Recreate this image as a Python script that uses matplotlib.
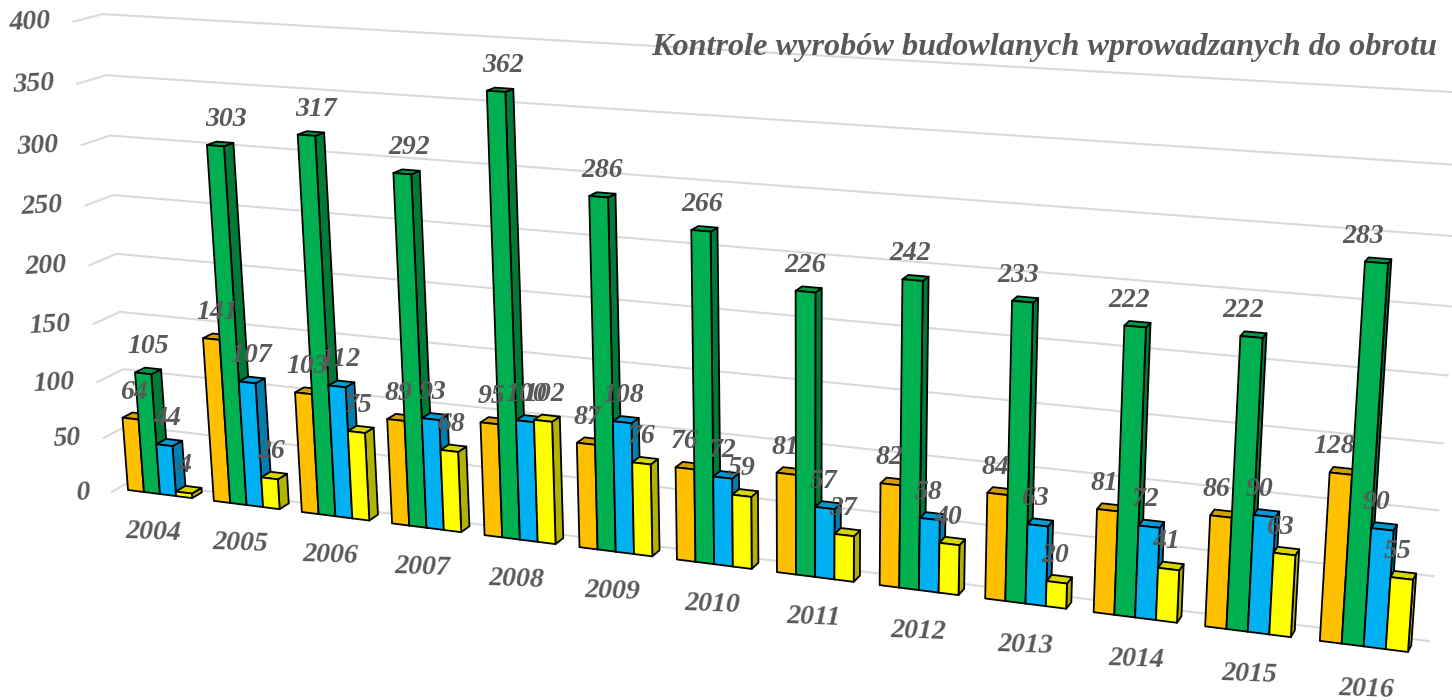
import numpy as np
import matplotlib
matplotlib.use("Agg")
import matplotlib.pyplot as plt

years = [2004, 2005, 2006, 2007, 2008, 2009, 2010, 2011, 2012, 2013, 2014, 2015, 2016]
orange = [64, 141, 103, 89, 95, 87, 76, 81, 82, 84, 81, 86, 128]
green = [105, 303, 317, 292, 362, 286, 266, 226, 242, 233, 222, 222, 283]
blue = [44, 107, 112, 93, 100, 108, 72, 57, 58, 63, 72, 90, 90]
yellow = [4, 26, 75, 68, 102, 76, 59, 37, 40, 20, 41, 63, 55]
ticks = [0, 50, 100, 150, 200, 250, 300, 350, 400]
title = "Kontrole wyrobów budowlanych wprowadzanych do obrotu"

TXT = "#595959"
FONT = "Liberation Serif"
# front, top, side colour per series
STYLES = [("#FFC000", "#D29E00", "#B38600"),
          ("#00B050", "#009A46", "#007A37"),
          ("#00B0F0", "#009AD3", "#007FAF"),
          ("#FFFF00", "#D6D600", "#B2B200")]
GROUP = 0.75  # share of a category slot used by the bars

# perspective of the chart: category/value plane -> picture pixels
src = [(0, 0), (12.75, 0), (0, 400), (12.75, 400)]
dst = [(128, 490), (1408, 652), (92, 18), (1446, 98)]
A = []
for (u, v), (px, py) in zip(src, dst):
    A.append([u, v, 1, 0, 0, 0, -u * px, -v * px, -px])
    A.append([0, 0, 0, u, v, 1, -u * py, -v * py, -py])
H = np.linalg.svd(np.array(A, float))[2][-1].reshape(3, 3)


def project(u, v, w=0.0):
    """u = category position, v = value, w = depth (1 = back of a bar)."""
    x, y, s = H @ np.array([u, v, 1.0])
    x, y = x / s, y / s
    return x + w * (10.6 - 0.0052 * x), y + w * (-2.5 - 0.0065 * y)


def face(ax, pts, color):
    ax.fill(*zip(*pts), facecolor=color, edgecolor="black", lw=1.3,
            joinstyle="round", zorder=3)


def draw_bar(ax, u0, u1, v, style):
    front, top, side = style
    face(ax, [project(u1, 0), project(u1, 0, 1), project(u1, v, 1), project(u1, v)], side)
    face(ax, [project(u0, v), project(u1, v), project(u1, v, 1), project(u0, v, 1)], top)
    face(ax, [project(u0, 0), project(u1, 0), project(u1, v), project(u0, v)], front)


def label(ax, x, y, s, size=20, ha="center", rotation=0):
    ax.text(x, y, s, ha=ha, va="center", family=FONT, style="italic", weight="bold",
            fontsize=size, color=TXT, rotation=rotation, zorder=6)


fig, ax = plt.subplots(figsize=(14.52, 7), dpi=100)
ax.set_position([0, 0, 1, 1])
ax.set_xlim(0, 1452)
ax.set_ylim(700, 0)
ax.axis("off")

# gridlines on the back wall and the side wall, wall depth grows to the right
WALL_L, WALL_R = 1.25, 1.9
for t in ticks:
    side = np.interp(t, [0, 50, 100, 400], [1.8, 2.3, 2.6, 2.9])
    shift = 9 * t / 400  # the left wall edge leans less than the bars
    a = project(-0.125, t, WALL_L - side)
    b = project(-0.125, t, WALL_L)
    c = project(12.875, t, WALL_R)
    ax.plot([a[0] + shift, b[0] + shift, c[0]], [a[1], b[1], c[1]],
            color="#D9D9D9", lw=1.5, zorder=1)
    label(ax, a[0] + shift - 22, a[1] + 1, str(t), ha="right", rotation=3)

series = [orange, green, blue, yellow]
bar_w = GROUP / len(series)
for i, year in enumerate(years):
    for j, vals in enumerate(series):
        draw_bar(ax, i + j * bar_w, i + (j + 1) * bar_w, vals[i], STYLES[j])
    for j, vals in enumerate(series):
        u = i + (j + 0.5) * bar_w
        x, y = project(u, vals[i], 0.5)
        # the labels lean only about half as much as the bars do
        x -= 0.45 * (project(u, vals[i])[0] - project(u, 0)[0])
        label(ax, x - 4, y - 24, str(vals[i]))
    x, y = project(i + GROUP / 2, 0)
    label(ax, x - 8 + 0.008 * x, y + 38 + 0.0035 * x, str(year), rotation=-2)

label(ax, 1437, 48, title, size=23.2, ha="right")

fig.savefig("out.png", dpi=100)
